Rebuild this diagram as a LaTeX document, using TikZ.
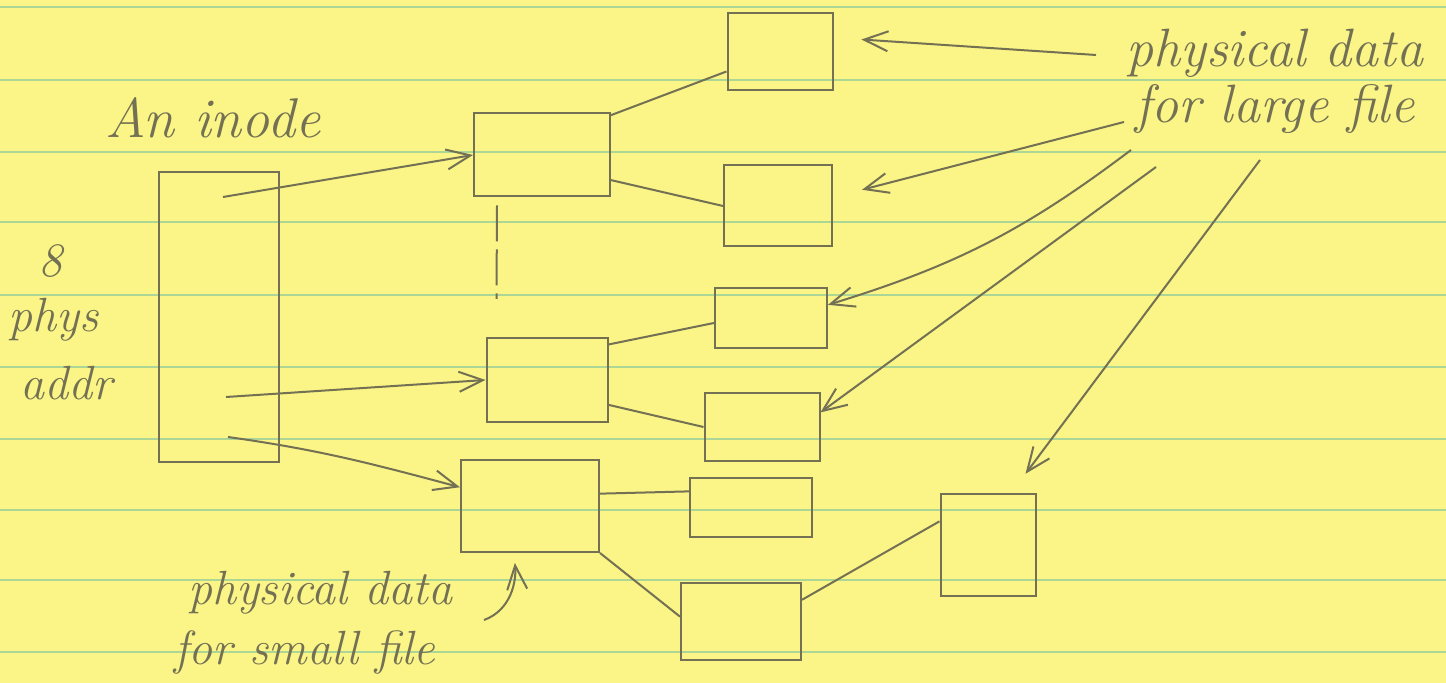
\documentclass[tikz,border=0pt]{standalone}
\usepackage{fontspec}
\usetikzlibrary{arrows.meta}
\definecolor{paper}{RGB}{250,245,134}
\definecolor{rule}{RGB}{172,214,150}
\definecolor{pencil}{RGB}{115,112,84}
\begin{document}
\begin{tikzpicture}[x=0.5pt,y=-0.5pt,
  blk/.style 2 args={draw=pencil, line width=1pt, minimum width=#1*0.5pt, minimum height=#2*0.5pt, inner sep=0pt},
  wire/.style={draw=pencil, line width=1pt},
  arr/.style={wire, -{Straight Barb[length=12pt,width=10pt]}},
  hand/.style={text=pencil, font=\itshape\fontsize{#1pt}{#1pt}\selectfont, inner sep=0pt, anchor=base}]
\fill[paper] (0,0) rectangle (1446,683);
\useasboundingbox (0,0) rectangle (1446,683);
\foreach \y in {7,80,152,222,295,367,439,510,580,652}
  \draw[rule, line width=1.2pt] (0,\y) -- (1446,\y);
\node[blk={120}{290}] (inode) at (219,317) {};
\node[blk={136}{83}] (ind1) at (542,155) {};
\node[blk={121}{84}] (ind2) at (547,380) {};
\node[blk={138}{92}] (ind3) at (530,506) {};
\node[blk={105}{77}] (r1) at (780,52) {};
\node[blk={108}{81}] (r2) at (778,206) {};
\node[blk={112}{60}] (r3) at (771,318) {};
\node[blk={115}{68}] (r4) at (762,427) {};
\node[blk={122}{59}] (r5) at (751,508) {};
\node[blk={120}{77}] (r6) at (741,622) {};
\node[blk={95}{102}] (r7) at (988,545) {};
\node[hand=28] (title) at (213,138) {An inode};
\node[hand=24] (eight) at (51,277) {8};
\node[hand=24] (phys) at (54,332) {phys};
\node[hand=24] (addr) at (66,400) {addr};
\node[hand=27] (largeA) at (1275,67) {physical data};
\node[hand=27] (largeB) at (1275,123) {for large file};
\node[hand=24] (smallA) at (320,605) {physical data};
\node[hand=24] (smallB) at (305,665) {for small file};
\coordinate (p1) at (223,197);
\coordinate (p2) at (226,397);
\coordinate (p3) at (228,437);
\draw[arr] (p1) -- (ind1.west);
\draw[arr] (p2) -- (ind2.west);
\draw[arr] (p3) to[out=-8,in=165] (ind3.165);
\draw[wire, dash pattern=on 18pt off 4pt] ([xshift=12pt,yshift=-4pt]ind1.south west) -- ([xshift=5.5pt,yshift=19pt]ind2.north west);
\draw[wire] (ind1.30) -- (r1.200);
\draw[wire] (ind1.-20) -- (r2.west);
\draw[wire] (ind2.30) -- (r3.185);
\draw[wire] (ind2.-22) -- (r4.west);
\draw[wire] (ind3.10) -- (r5.165);
\draw[wire] (ind3.south east) -- (r6.175);
\draw[wire] (r6.20) -- (r7.154);
\coordinate (q1) at (1096,55);
\coordinate (q2) at (1124,122);
\coordinate (q3) at (1131,150);
\coordinate (q4) at (1156,167);
\coordinate (q5) at (1260,160);
\draw[arr, shorten >=14pt] (q1) -- (r1.15);
\draw[arr, shorten >=15pt] (q2) -- (r2.9);
\draw[arr] (q3) to[bend left=10] (r3.13);
\draw[arr] (q4) -- (r4.14);
\draw[arr, shorten >=12pt] (q5) -- (r7.66);
\coordinate (s1) at (484,620);
\draw[arr, shorten >=5pt] (s1) to[out=20,in=-85] ([xshift=-8pt]ind3.south);
\end{tikzpicture}
\end{document}
